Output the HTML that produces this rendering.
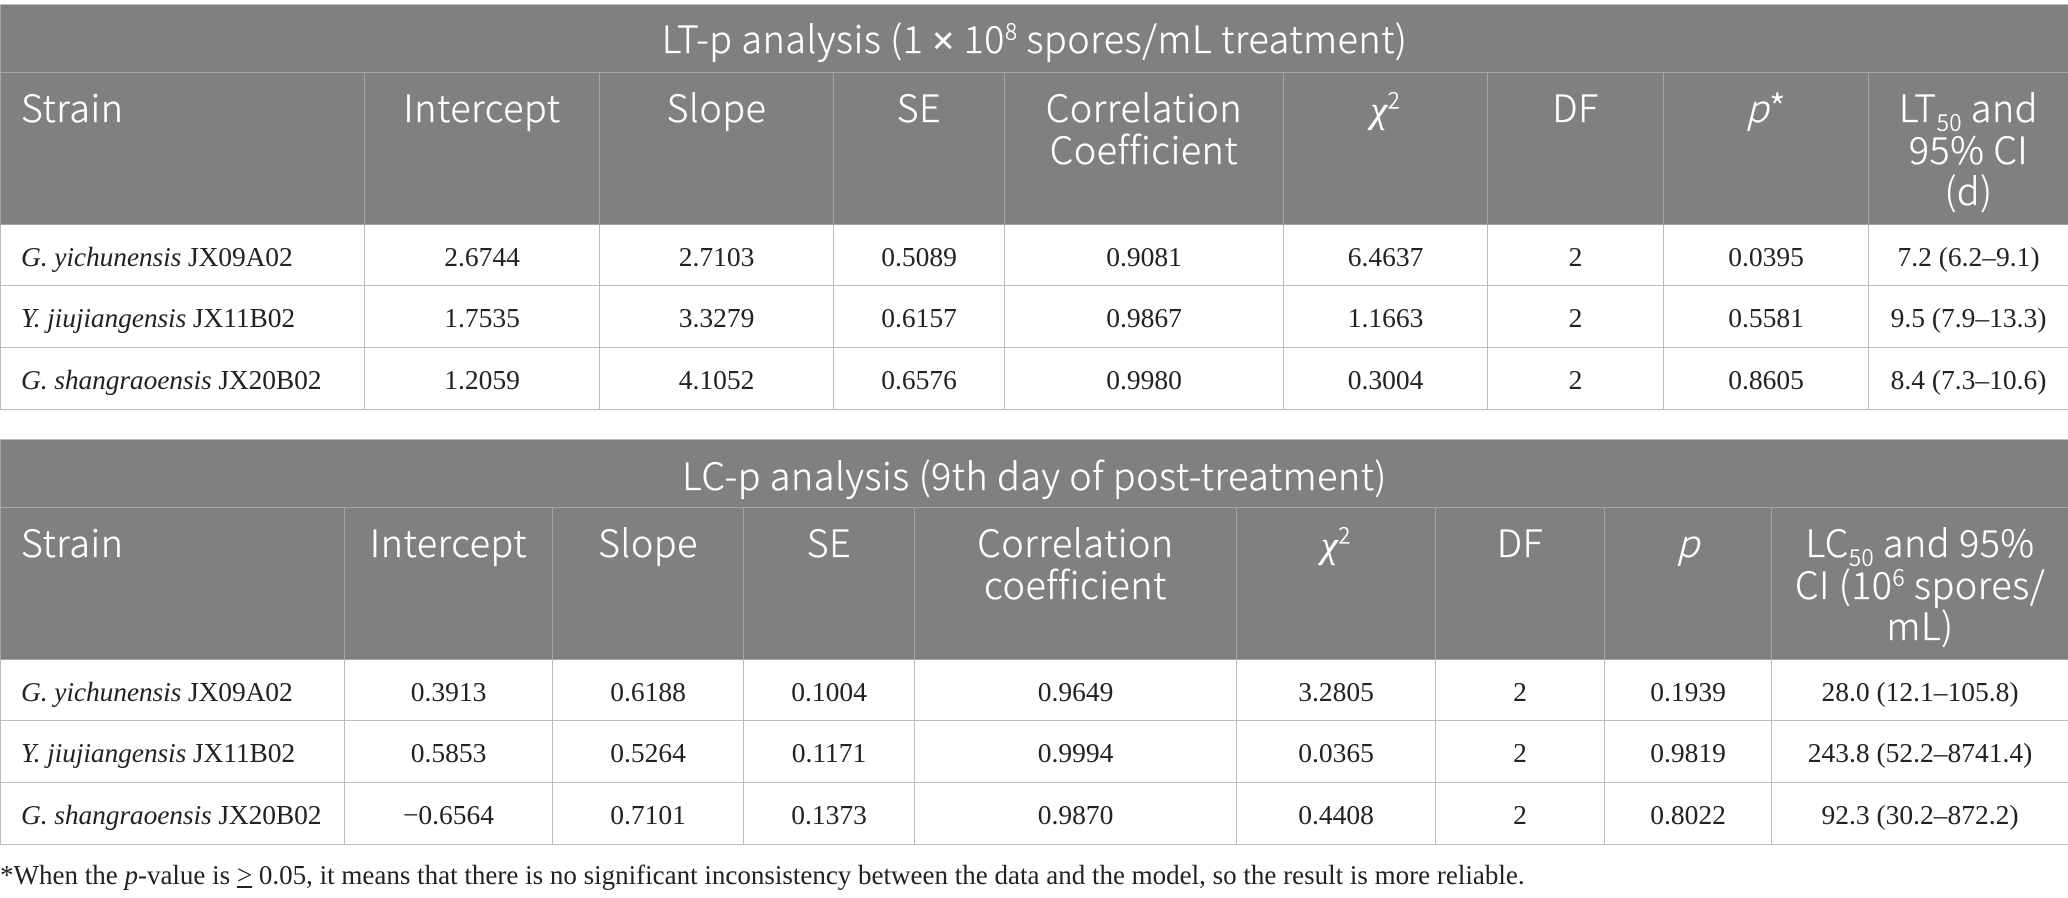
<!DOCTYPE html>
<html lang="en">
<head>
<meta charset="utf-8">
<title>LT-p and LC-p analysis</title>
<style>
html,body{margin:0;padding:0;background:#fff;}
body{width:2068px;height:898px;position:relative;overflow:hidden;}
table{position:absolute;left:0;width:2068px;table-layout:fixed;border-collapse:collapse;}
td,th{box-sizing:border-box;padding:0;overflow:visible;}
th{background:#7f8180;color:#fff;font-family:"Noto Sans CJK JP","Liberation Sans",sans-serif;font-weight:300;font-size:37.5px;letter-spacing:.6px;-webkit-text-stroke:.3px #fff;line-height:41.5px;vertical-align:top;text-align:center;border:1px solid #a3a5a4;padding-top:12px;white-space:nowrap;}
th.title{height:68px;vertical-align:middle;padding:0;border-top:1.5px solid #bdbdbd;border-bottom:1.5px solid #a3a5a4;}
th.left{text-align:left;padding-left:20px;}
td{font-family:"Liberation Serif",serif;font-size:27.5px;color:#222;text-align:center;vertical-align:middle;border:1px solid #bdbdbd;background:#fff;padding-top:3px;}
td.left{text-align:left;padding-left:20px;white-space:nowrap;letter-spacing:-.12px;}
tr.r1 td{height:61px;padding-top:4px;}
#t2 tr.r1 td{padding-top:3px;}
tr.r2 td,tr.r3 td{height:62px;}
#t2 tr.r2 td,#t2 tr.r3 td{padding-top:2px;}
tr.head th{height:152px;}
sup,sub{font-size:60%;line-height:0;}
.chi{font-family:"Liberation Serif",serif;font-style:italic;}
.pi{font-style:italic;}
.times{font-family:"Liberation Sans",sans-serif;}
#note{position:absolute;left:0;top:856px;font-family:"Liberation Serif",serif;font-size:27px;line-height:38px;color:#222;white-space:nowrap;}
</style>
</head>
<body>

<table id="t1" style="top:4px">
<colgroup><col style="width:364px"><col style="width:235px"><col style="width:234px"><col style="width:171px"><col style="width:279px"><col style="width:204px"><col style="width:176px"><col style="width:205px"><col style="width:200px"></colgroup>
<tr><th class="title" colspan="9">LT-p analysis (1 <span class="times">×</span> 10<sup>8</sup> spores/mL treatment)</th></tr>
<tr class="head">
<th class="left">Strain</th>
<th>Intercept</th>
<th>Slope</th>
<th>SE</th>
<th>Correlation<br>Coefficient</th>
<th><span class="chi">χ</span><sup>2</sup></th>
<th>DF</th>
<th><span class="pi">p</span>*</th>
<th>LT<sub>50</sub> and<br>95% CI<br>(d)</th>
</tr>
<tr class="r1"><td class="left"><i>G. yichunensis</i> JX09A02</td><td>2.6744</td><td>2.7103</td><td>0.5089</td><td>0.9081</td><td>6.4637</td><td>2</td><td>0.0395</td><td>7.2 (6.2–9.1)</td></tr>
<tr class="r2"><td class="left"><i>Y. jiujiangensis</i> JX11B02</td><td>1.7535</td><td>3.3279</td><td>0.6157</td><td>0.9867</td><td>1.1663</td><td>2</td><td>0.5581</td><td>9.5 (7.9–13.3)</td></tr>
<tr class="r3"><td class="left"><i>G. shangraoensis</i> JX20B02</td><td>1.2059</td><td>4.1052</td><td>0.6576</td><td>0.9980</td><td>0.3004</td><td>2</td><td>0.8605</td><td>8.4 (7.3–10.6)</td></tr>
</table>

<table id="t2" style="top:439px">
<colgroup><col style="width:344px"><col style="width:208px"><col style="width:191px"><col style="width:171px"><col style="width:322px"><col style="width:199px"><col style="width:169px"><col style="width:167px"><col style="width:297px"></colgroup>
<tr><th class="title" colspan="9">LC-p analysis (9th day of post-treatment)</th></tr>
<tr class="head">
<th class="left">Strain</th>
<th>Intercept</th>
<th>Slope</th>
<th>SE</th>
<th>Correlation<br>coefficient</th>
<th><span class="chi">χ</span><sup>2</sup></th>
<th>DF</th>
<th><span class="pi">p</span></th>
<th>LC<sub>50</sub> and 95%<br>CI (10<sup>6</sup> spores/<br>mL)</th>
</tr>
<tr class="r1"><td class="left"><i>G. yichunensis</i> JX09A02</td><td>0.3913</td><td>0.6188</td><td>0.1004</td><td>0.9649</td><td>3.2805</td><td>2</td><td>0.1939</td><td>28.0 (12.1–105.8)</td></tr>
<tr class="r2"><td class="left"><i>Y. jiujiangensis</i> JX11B02</td><td>0.5853</td><td>0.5264</td><td>0.1171</td><td>0.9994</td><td>0.0365</td><td>2</td><td>0.9819</td><td>243.8 (52.2–8741.4)</td></tr>
<tr class="r3"><td class="left"><i>G. shangraoensis</i> JX20B02</td><td>−0.6564</td><td>0.7101</td><td>0.1373</td><td>0.9870</td><td>0.4408</td><td>2</td><td>0.8022</td><td>92.3 (30.2–872.2)</td></tr>
</table>

<div id="note">*When the <i>p</i>-value is <u>&gt;</u> 0.05, it means that there is no significant inconsistency between the data and the model, so the result is more reliable.</div>
</body>
</html>
